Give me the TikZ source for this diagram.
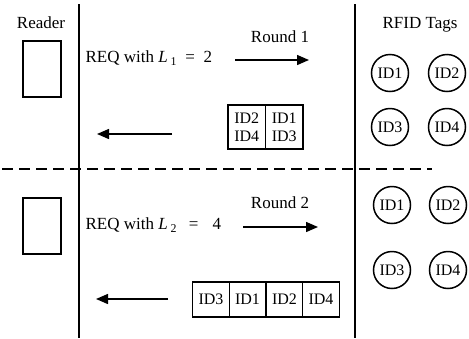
\documentclass[tikz,border=0pt]{standalone}
\usepackage{fontspec}
\setmainfont{Liberation Serif}
\usetikzlibrary{arrows.meta}

\begin{document}
\begin{tikzpicture}[x=1pt,y=-1pt,
    every node/.style={font=\fontsize{17}{20}\selectfont},
    tag/.style={draw,circle,line width=1.5pt,minimum size=37pt,inner sep=0pt,
      font=\fontsize{16}{18}\selectfont},
    cell/.style={draw,line width=1.3pt,inner sep=0pt,align=center,
      font=\fontsize{16}{18}\selectfont},
    reader/.style={draw,line width=1.4pt,minimum width=38pt,minimum height=56pt},
    msg/.style={line width=1.4pt,-{Triangle[length=12pt,width=10pt]}},
    wall/.style={line width=1.7pt}]
  \useasboundingbox (0,0) rectangle (469,338);
  % columns and rounds
  \draw[wall] (79,4) -- (79,338);
  \draw[wall] (355,4) -- (355,338);
  \draw[line width=1.6pt,dash pattern=on 11pt off 6pt] (2,169) -- (432,169);
  \draw
    (41,23) node (rd){Reader}
    (420,25) node (tg){RFID Tags}
    (42,69) node[reader] (r1){}
    (42,226) node[reader] (r2){};
  % round 1
  \draw
    (82,58) node[anchor=west] (q1){REQ with \textit{L}\,\textsubscript{1}\enspace=\enspace2}
    (280,37) node (n1){Round 1}
    (246.75,127) node[cell,minimum width=37.5pt,minimum height=44pt] (b11){ID2\\ID4}
    (284.25,127) node[cell,minimum width=37.5pt,minimum height=44pt] (b12){ID1\\ID3}
    (390,73) node[tag] (t11){ID1}
    (447,73) node[tag] (t12){ID2}
    (390,127) node[tag] (t13){ID3}
    (447,127) node[tag] (t14){ID4};
  \coordinate (a1s) at (235,60);
  \coordinate (a1e) at (309,60);
  \coordinate (k1s) at (172,134);
  \coordinate (k1e) at (97,134);
  \draw[msg] (a1s) to (a1e);
  \draw[msg] (k1s) to (k1e);
  % round 2
  \draw
    (82,225) node[anchor=west] (q2){REQ with \textit{L}\,\textsubscript{2}\hspace{12pt}=\hspace{14pt}4}
    (280,203) node (n2){Round 2}
    (211,299.5) node[cell,minimum width=36.5pt,minimum height=35pt] (b21){ID3}
    (247.5,299.5) node[cell,minimum width=36.5pt,minimum height=35pt] (b22){ID1}
    (284.5,299.5) node[cell,minimum width=36.5pt,minimum height=35pt] (b23){ID2}
    (321,299.5) node[cell,minimum width=36.5pt,minimum height=35pt] (b24){ID4}
    (392,205) node[tag] (t21){ID1}
    (448,205) node[tag] (t22){ID2}
    (392,270) node[tag] (t23){ID3}
    (448,270) node[tag] (t24){ID4};
  \coordinate (a2s) at (243,227);
  \coordinate (a2e) at (318,227);
  \coordinate (k2s) at (168,299);
  \coordinate (k2e) at (96,299);
  \draw[msg] (a2s) to (a2e);
  \draw[msg] (k2s) to (k2e);
\end{tikzpicture}
\end{document}
